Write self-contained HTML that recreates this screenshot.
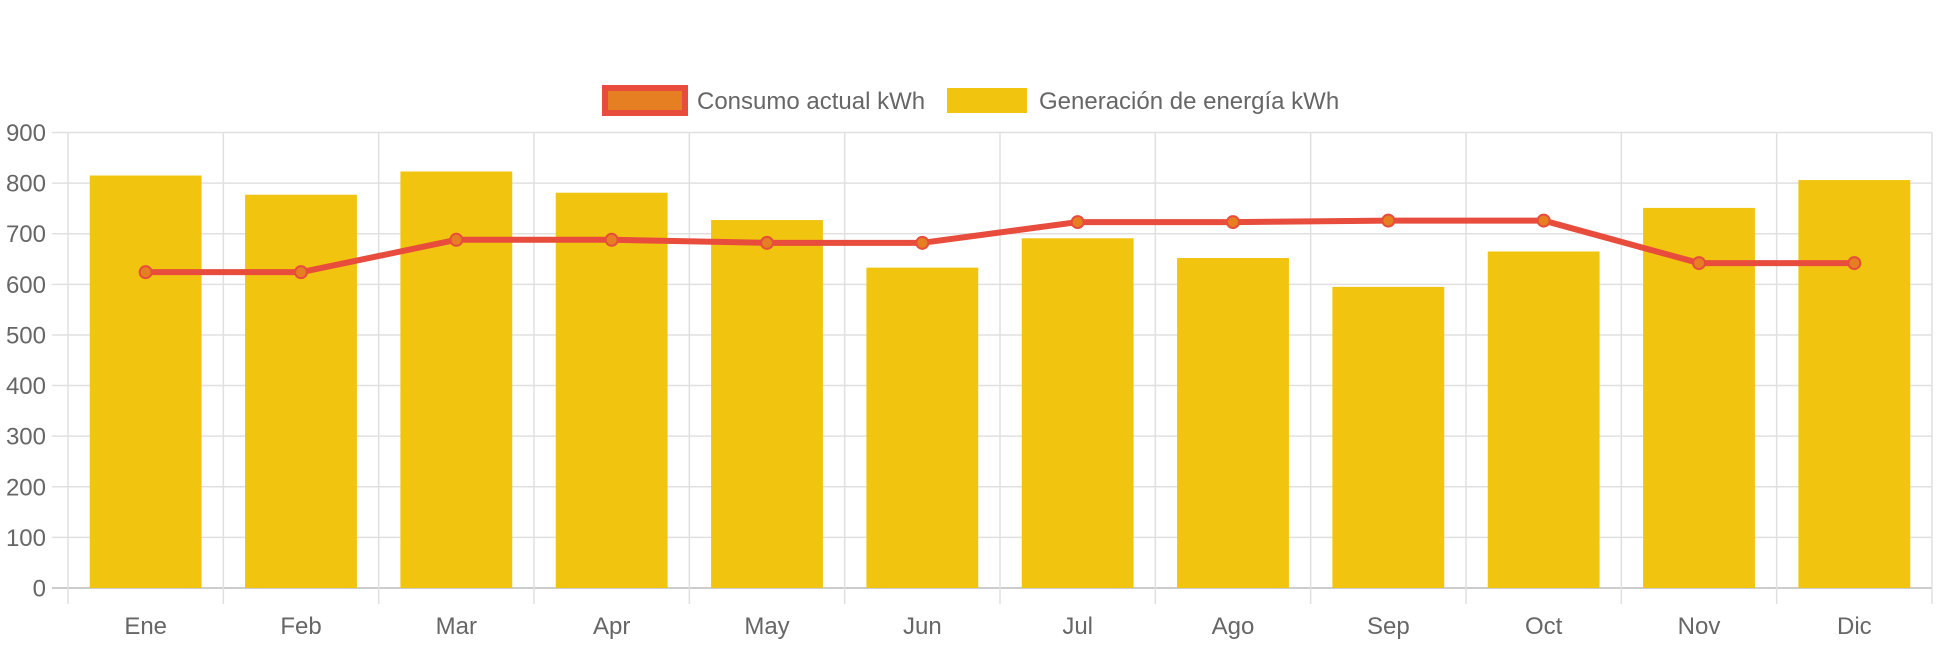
<!DOCTYPE html>
<html><head><meta charset="utf-8"><style>
html,body{margin:0;padding:0;background:#fff;}
svg text{font-family:"Liberation Sans",sans-serif;fill:#666;}
</style></head><body>
<svg id="chart" width="1942" height="646" xmlns="http://www.w3.org/2000/svg">
<g id="legend">
 <g>
  <rect x="605" y="88" width="80" height="25" fill="#e67e22" stroke="#e74c3c" stroke-width="6"/>
  <text x="697" y="109" font-size="24">Consumo actual kWh</text>
 </g>
 <g>
  <rect x="947" y="88" width="80" height="25" fill="#f1c40f"/>
  <text x="1039" y="109" font-size="24">Generación de energía kWh</text>
 </g>
</g>
<g id="grid"></g>
<g id="bars"></g>
<g id="line"></g>
<g id="labels"></g>
</svg>
<script>
const categories=["Ene","Feb","Mar","Apr","May","Jun","Jul","Ago","Sep","Oct","Nov","Dic"];
const generacion=[815,777,823,781,727,633,691,652,595,665,751,806];
const consumo=[624,624,688,688,682,682,723,723,726,726,642,642];
const yTicks=[0,100,200,300,400,500,600,700,800,900];
const NS="http://www.w3.org/2000/svg";
const L=68,R=1932,T=132.5,B=588,YMAX=900;
const cw=(R-L)/categories.length;
function y(v){return B-(v/YMAX)*(B-T);}
function xc(i){return L+cw*(i+0.5);}
function mk(tag,attrs,parent,txt){const e=document.createElementNS(NS,tag);for(const k in attrs)e.setAttribute(k,attrs[k]);if(txt!==undefined)e.textContent=txt;parent.appendChild(e);return e;}
const grid=document.getElementById('grid'),bars=document.getElementById('bars'),line=document.getElementById('line'),labels=document.getElementById('labels');
yTicks.forEach(t=>{
 const g=mk('line',{x1:52,x2:R,y1:y(t),y2:y(t),stroke:t===0?'#ccc':'#e0e0e0','stroke-width':t===0?2:1.5},grid);
 
 
 const lb=mk('text',{x:46,y:y(t)+8.5,'font-size':24,'text-anchor':'end'},labels,t);
 
 
});
for(let i=0;i<=categories.length;i++){
 const gx=L+cw*i;
 const g=mk('line',{x1:gx,x2:gx,y1:T,y2:604,stroke:'#e0e0e0','stroke-width':1.5},grid);
 
 
}
const bw=cw*0.72;
categories.forEach((c,i)=>{
 const r=mk('rect',{x:xc(i)-bw/2,y:y(generacion[i]),width:bw,height:B-y(generacion[i]),fill:'#f1c40f'},bars);
 
 
 const lb=mk('text',{x:xc(i),y:634,'font-size':24,'text-anchor':'middle'},labels,c);
 
 
});
const pl=mk('polyline',{points:consumo.map((v,i)=>xc(i)+','+y(v)).join(' '),fill:'none',stroke:'#e74c3c','stroke-width':6,'stroke-linejoin':'round'},line);


consumo.forEach((v,i)=>{
 const p=mk('circle',{cx:xc(i),cy:y(v),r:6,fill:'#e67e22',stroke:'#e74c3c','stroke-width':2},line);
 
 
});
</script>
</body></html>
